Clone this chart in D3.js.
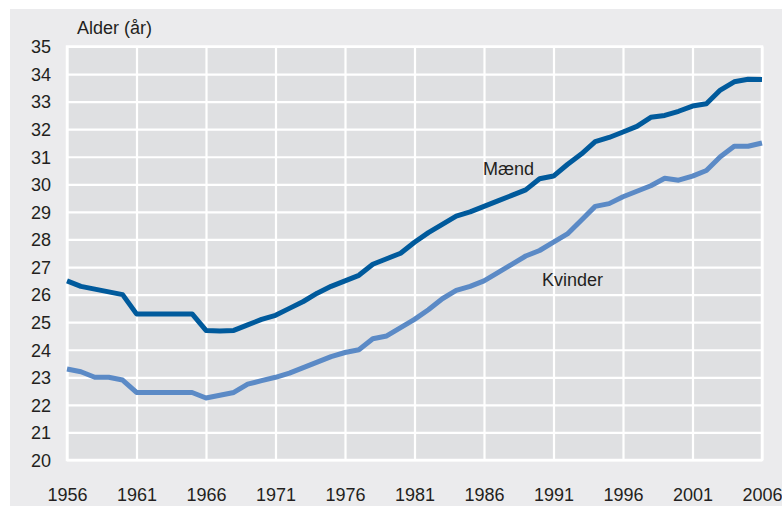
<!DOCTYPE html>
<html>
<head>
<meta charset="utf-8">
<script src="https://cdn.jsdelivr.net/npm/d3@7"></script>
<style>
    body { margin: 0; background: #ffffff; }
    .chart text { font-family: "Liberation Sans", Arial, sans-serif; fill: #231f20; }
</style>
</head>
<body>
<div class="chart"></div>
<script>
// Gennemsnitsalder ved første ægteskab, 1956-2006
const years = d3.range(1956, 2007);

const maend = [
    26.5, 26.3, 26.2, 26.1, 26.0, 25.3, 25.3, 25.3, 25.3, 25.3,
    24.7, 24.68, 24.7, 24.9, 25.1, 25.25, 25.5, 25.75, 26.05, 26.3,
    26.5, 26.7, 27.1, 27.3, 27.5, 27.9, 28.25, 28.55, 28.85, 29.0,
    29.2, 29.4, 29.6, 29.8, 30.2, 30.3, 30.72, 31.1, 31.55, 31.7,
    31.9, 32.1, 32.43, 32.5, 32.65, 32.84, 32.92, 33.42, 33.72, 33.81,
    33.8
];

const kvinder = [
    23.3, 23.2, 23.0, 23.0, 22.9, 22.45, 22.45, 22.45, 22.45, 22.45,
    22.25, 22.35, 22.45, 22.75, 22.88, 23.0, 23.15, 23.35, 23.55, 23.75,
    23.9, 24.0, 24.4, 24.5, 24.8, 25.1, 25.45, 25.85, 26.15, 26.3,
    26.5, 26.8, 27.1, 27.4, 27.6, 27.9, 28.2, 28.7, 29.2, 29.3,
    29.55, 29.75, 29.95, 30.22, 30.15, 30.3, 30.5, 31.0, 31.38, 31.38,
    31.5
];

const xTicks = [1956, 1961, 1966, 1971, 1976, 1981, 1986, 1991, 1996, 2001, 2006];
const yTicks = d3.range(20, 36);

const seriesNames = ["Mænd", "Kvinder"];

const width = 782, height = 506;
const margin = {top: 46.5, left: 67, right: 20, bottom: 46};

const svg = d3.select(".chart")
    .append("svg")
    .attr("width", width)
    .attr("height", height);

// outer panel
svg.append("rect")
    .attr("x", 10).attr("y", 9)
    .attr("width", width - 10).attr("height", height - 9)
    .style("fill", "#ebebed");

const x = d3.scaleLinear()
    .domain([1956, 2006])
    .range([margin.left, width - margin.right]);

const y = d3.scaleLinear()
    .domain([20, 35])
    .range([height - margin.bottom, margin.top]);

// plot area
svg.append("rect")
    .attr("x", x(1956)).attr("y", y(35))
    .attr("width", x(2006) - x(1956)).attr("height", y(20) - y(35))
    .style("fill", "#dfe0e2")
    .style("stroke", "#ffffff")
    .style("stroke-width", 2.5);

// gridlines
const gridX = svg.append("g")
    .attr("transform", "translate(0," + y(20) + ")")
    .call(d3.axisBottom(x).tickValues(xTicks).tickSize(-(y(20) - y(35))).tickFormat(""));
gridX.select("path").remove();
gridX.selectAll("line").style("stroke", "#ffffff").style("stroke-width", 2.2);

const gridY = svg.append("g")
    .attr("transform", "translate(" + x(1956) + ",0)")
    .call(d3.axisLeft(y).tickValues(yTicks).tickSize(-(x(2006) - x(1956))).tickFormat(""));
gridY.select("path").remove();
gridY.selectAll("line").style("stroke", "#ffffff").style("stroke-width", 2.2);

// axis labels
const xAxis = svg.append("g")
    .attr("transform", "translate(0," + y(20) + ")")
    .call(d3.axisBottom(x).tickValues(xTicks).tickSize(0).tickFormat(d3.format("d")));
xAxis.select("path").remove();
xAxis.selectAll("text")
    .attr("y", 41)
    .attr("dy", 0)
    .style("font-size", "18px");

const yAxis = svg.append("g")
    .attr("transform", "translate(51,0)")
    .call(d3.axisLeft(y).tickValues(yTicks).tickSize(0).tickFormat(d3.format("d")));
yAxis.select("path").remove();
yAxis.selectAll("text")
    .attr("x", 0)
    .attr("dy", "0.35em")
    .style("font-size", "18px");

svg.append("text")
    .attr("x", 77).attr("y", 34)
    .text("Alder (år)")
    .style("font-size", "18px");

// lines
const line = d3.line()
    .x((d, i) => x(years[i]))
    .y(d => y(d));

svg.append("path")
    .datum(kvinder)
    .attr("d", line)
    .style("fill", "none")
    .style("stroke", "#5b8ac6")
    .style("stroke-width", 5)
    .style("stroke-linejoin", "round");

svg.append("path")
    .datum(maend)
    .attr("d", line)
    .style("fill", "none")
    .style("stroke", "#005a9c")
    .style("stroke-width", 5)
    .style("stroke-linejoin", "round");

// series labels
svg.append("text")
    .attr("x", 483).attr("y", 175)
    .text(seriesNames[0])
    .style("font-size", "18px");

svg.append("text")
    .attr("x", 542).attr("y", 286)
    .text(seriesNames[1])
    .style("font-size", "18px");
</script>
</body>
</html>
